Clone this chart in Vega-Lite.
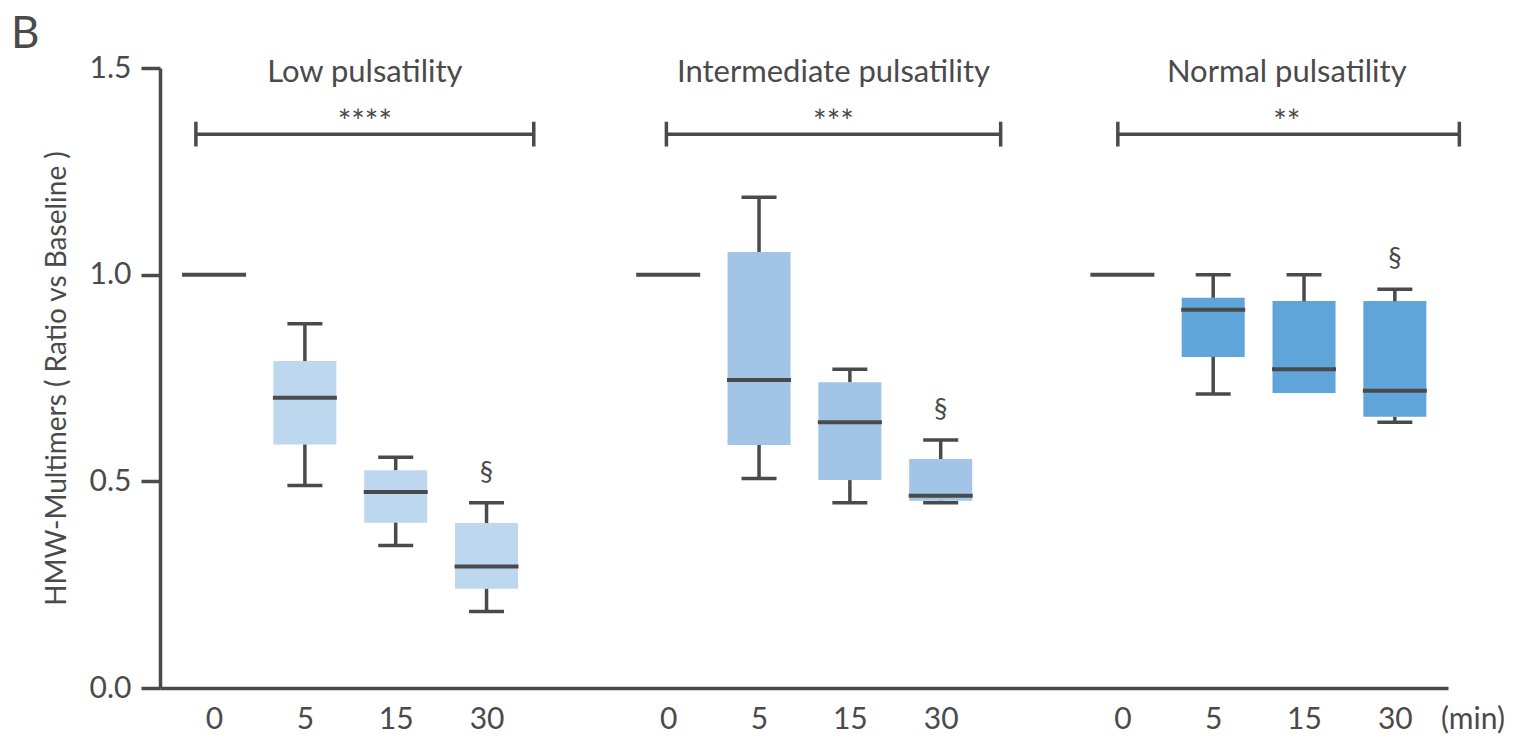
{
  "$schema": "https://vega.github.io/schema/vega-lite/v6.json",
  "autosize": {"type": "none"},
  "width": 1288,
  "height": 620,
  "padding": {"left": 160, "top": 68, "right": 65, "bottom": 50},
  "background": "white",
  "config": {
    "view": {"stroke": null},
    "font": "Lato",
    "text": {"font": "Lato", "color": "#4a4a4c"}
  },
  "title": {"text": "B", "anchor": "start", "frame": "group", "fontSize": 44, "font": "Lato", "fontWeight": "normal", "color": "#4a4a4c", "dx": -149, "offset": -4},
  "datasets": {
    "boxes": [
      {"group": "Low", "time": 0, "slot": 0, "q1": 1.0, "median": 1.0, "q3": 1.0},
      {"group": "Low", "time": 5, "slot": 1, "min": 0.490, "q1": 0.589, "median": 0.702, "q3": 0.791, "max": 0.881},
      {"group": "Low", "time": 15, "slot": 2, "min": 0.345, "q1": 0.400, "median": 0.474, "q3": 0.527, "max": 0.558},
      {"group": "Low", "time": 30, "slot": 3, "min": 0.185, "q1": 0.240, "median": 0.294, "q3": 0.399, "max": 0.448, "sig": "§"},
      {"group": "Intermediate", "time": 0, "slot": 5, "q1": 1.0, "median": 1.0, "q3": 1.0},
      {"group": "Intermediate", "time": 5, "slot": 6, "min": 0.507, "q1": 0.588, "median": 0.745, "q3": 1.055, "max": 1.187},
      {"group": "Intermediate", "time": 15, "slot": 7, "min": 0.448, "q1": 0.503, "median": 0.643, "q3": 0.740, "max": 0.771},
      {"group": "Intermediate", "time": 30, "slot": 8, "min": 0.448, "q1": 0.453, "median": 0.465, "q3": 0.554, "max": 0.600, "sig": "§"},
      {"group": "Normal", "time": 0, "slot": 10, "q1": 1.0, "median": 1.0, "q3": 1.0},
      {"group": "Normal", "time": 5, "slot": 11, "min": 0.711, "q1": 0.801, "median": 0.915, "q3": 0.944, "max": 1.0},
      {"group": "Normal", "time": 15, "slot": 12, "q1": 0.714, "median": 0.771, "q3": 0.936, "max": 1.0},
      {"group": "Normal", "time": 30, "slot": 13, "min": 0.643, "q1": 0.656, "median": 0.719, "q3": 0.936, "max": 0.965, "sig": "§"}
    ],
    "brackets": [
      {"group": "Low", "title": "Low pulsatility", "stars": "****", "start": -0.20, "end": 3.52, "mid": 1.66},
      {"group": "Intermediate", "title": "Intermediate pulsatility", "stars": "***", "start": 4.98, "end": 8.66, "mid": 6.82},
      {"group": "Normal", "title": "Normal pulsatility", "stars": "**", "start": 9.95, "end": 13.71, "mid": 11.81}
    ],
    "unit": [{"label": "(min)", "slot": 13.86, "value": -0.077}]
  },
  "layer": [
    {
      "data": {"name": "boxes"},
      "mark": {"type": "bar", "size": 63},
      "encoding": {
        "x": {"field": "slot", "type": "quantitative",
              "scale": {"domain": [-0.54, 13.53], "nice": false, "zero": false},
              "axis": {"title": null, "values": [0, 1, 2, 3, 5, 6, 7, 8, 10, 11, 12, 13],
                       "labelExpr": "['0','5','15','30','',''][datum.value % 5]",
                       "grid": false, "ticks": false, "tickSize": 0, "domainColor": "#4a4a4c", "domainWidth": 3.5,
                       "labelFontSize": 30, "labelColor": "#4a4a4c", "labelPadding": 16, "labelFont": "Lato"}},
        "y": {"field": "q1", "type": "quantitative",
              "scale": {"domain": [0, 1.5], "nice": false, "zero": true},
              "axis": {"title": "HMW-Multimers ( Ratio vs Baseline )", "values": [0, 0.5, 1, 1.5], "format": ".1f",
                       "grid": false, "tickSize": 19, "tickWidth": 3.5, "tickColor": "#4a4a4c",
                       "domainColor": "#4a4a4c", "domainWidth": 3.5,
                       "labelFontSize": 30, "labelColor": "#4a4a4c", "labelPadding": 10, "labelFont": "Lato",
                       "titleFontSize": 28, "titleFont": "Lato", "titleFontWeight": "normal", "titleColor": "#4a4a4c", "titlePadding": 18}},
        "y2": {"field": "q3"},
        "color": {"field": "group", "type": "nominal",
                  "scale": {"domain": ["Low", "Intermediate", "Normal"], "range": ["#bdd7ef", "#a1c4e7", "#5fa5d9"]},
                  "legend": null}
      }
    },
    {
      "data": {"name": "boxes"},
      "mark": {"type": "rule", "color": "#4a4a4c", "strokeWidth": 3.5},
      "encoding": {
        "x": {"field": "slot", "type": "quantitative"},
        "y": {"field": "min", "type": "quantitative"},
        "y2": {"field": "q1"}
      }
    },
    {
      "data": {"name": "boxes"},
      "mark": {"type": "rule", "color": "#4a4a4c", "strokeWidth": 3.5},
      "encoding": {
        "x": {"field": "slot", "type": "quantitative"},
        "y": {"field": "q3", "type": "quantitative"},
        "y2": {"field": "max"}
      }
    },
    {
      "data": {"name": "boxes"},
      "mark": {"type": "tick", "orient": "horizontal", "size": 35, "thickness": 3.5, "color": "#4a4a4c", "opacity": 1},
      "encoding": {
        "x": {"field": "slot", "type": "quantitative"},
        "y": {"field": "min", "type": "quantitative"}
      }
    },
    {
      "data": {"name": "boxes"},
      "mark": {"type": "tick", "orient": "horizontal", "size": 35, "thickness": 3.5, "color": "#4a4a4c", "opacity": 1},
      "encoding": {
        "x": {"field": "slot", "type": "quantitative"},
        "y": {"field": "max", "type": "quantitative"}
      }
    },
    {
      "data": {"name": "boxes"},
      "mark": {"type": "tick", "orient": "horizontal", "size": 64, "thickness": 4, "color": "#4a4a4c", "opacity": 1},
      "encoding": {
        "x": {"field": "slot", "type": "quantitative"},
        "y": {"field": "median", "type": "quantitative"}
      }
    },
    {
      "data": {"name": "boxes"},
      "transform": [{"filter": "datum.sig"}],
      "mark": {"type": "text", "fontSize": 27, "dy": -30, "baseline": "middle", "align": "center"},
      "encoding": {
        "x": {"field": "slot", "type": "quantitative"},
        "y": {"field": "max", "type": "quantitative"},
        "text": {"field": "sig"}
      }
    },
    {
      "data": {"name": "brackets"},
      "mark": {"type": "rule", "color": "#4a4a4c", "strokeWidth": 3.5},
      "encoding": {
        "x": {"field": "start", "type": "quantitative"},
        "x2": {"field": "end"},
        "y": {"datum": 1.34}
      }
    },
    {
      "data": {"name": "brackets"},
      "mark": {"type": "rule", "color": "#4a4a4c", "strokeWidth": 3.5},
      "encoding": {
        "x": {"field": "start", "type": "quantitative"},
        "y": {"datum": 1.31},
        "y2": {"datum": 1.37}
      }
    },
    {
      "data": {"name": "brackets"},
      "mark": {"type": "rule", "color": "#4a4a4c", "strokeWidth": 3.5},
      "encoding": {
        "x": {"field": "end", "type": "quantitative"},
        "y": {"datum": 1.31},
        "y2": {"datum": 1.37}
      }
    },
    {
      "data": {"name": "brackets"},
      "mark": {"type": "text", "fontSize": 32, "baseline": "middle", "align": "center", "dy": 9},
      "encoding": {
        "x": {"field": "mid", "type": "quantitative"},
        "y": {"datum": 1.389},
        "text": {"field": "stars"}
      }
    },
    {
      "data": {"name": "brackets"},
      "mark": {"type": "text", "fontSize": 31, "baseline": "middle", "align": "center"},
      "encoding": {
        "x": {"field": "mid", "type": "quantitative"},
        "y": {"datum": 1.488},
        "text": {"field": "title"}
      }
    },
    {
      "data": {"name": "unit"},
      "mark": {"type": "text", "fontSize": 30, "baseline": "middle", "align": "center"},
      "encoding": {
        "x": {"field": "slot", "type": "quantitative"},
        "y": {"field": "value", "type": "quantitative"},
        "text": {"field": "label"}
      }
    }
  ]
}
